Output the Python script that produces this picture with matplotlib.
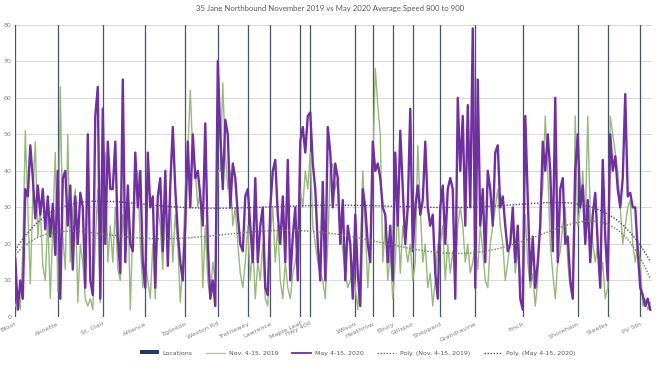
import numpy as np
import matplotlib
matplotlib.use("Agg")
import matplotlib.pyplot as plt
from matplotlib.lines import Line2D
from matplotlib.patches import Patch

title = "35 Jane Northbound November 2019 vs May 2020 Average Speed 800 to 900"

location_names = ["Bloor", "Annette", "St. Clair", "Alliance", "Eglinton", "Weston Rd",
                  "Trethewey", "Lawrence", "Maple Leaf", "Hwy 400", "Wilson", "Heathrow",
                  "Ebury", "Gillspur", "Sheppard", "Grandravine", "Finch", "Shoreham",
                  "Steeles", "PV Stn"]
location_index = [0, 17, 35, 52, 68, 81, 93, 102, 114, 118, 136, 143, 151, 159, 170,
                  184, 203, 225, 237, 250]

may_2020 = [
    16, 2, 10, 5, 35, 33, 47, 38, 27, 36, 28, 35, 24, 33, 22, 31, 17, 40, 5, 38,
    40, 25, 36, 13, 33, 20, 34, 30, 8, 50, 10, 6, 55, 63, 5, 57, 20, 48,
    35, 35, 48, 22, 12, 65, 15, 36, 20, 18, 45, 30, 40, 15, 8, 45, 30, 33, 8, 33,
    38, 18, 40, 14, 36, 52, 35, 23, 15, 10, 25, 48, 30, 50, 38, 40, 33, 25, 53, 20,
    5, 10, 3, 70,
    50, 35, 54, 50, 30, 42, 38, 28, 20, 18, 33, 35, 25, 15, 38, 15, 25, 30, 8, 6,
    30, 40, 43, 28, 20, 33, 15, 43, 10, 22, 30, 10, 48, 52, 45, 55, 56, 42, 35, 20,
    10, 37, 10, 52,
    45, 30, 42, 38, 20, 32, 10, 25, 20, 5, 28, 12, 3, 35, 30, 20, 15, 48, 40, 42,
    38, 30, 28, 15, 25, 10, 45, 25, 51, 35, 20, 30, 57, 18, 30, 36, 28, 32, 48, 30,
    25, 28, 12, 5,
    30, 36, 20, 35, 38, 35, 5, 60, 40, 55, 25, 58, 30, 79, 8, 65, 25, 35, 15, 40,
    35, 25, 45, 47, 30, 33, 25, 18, 20, 30, 15, 25, 5, 2, 55, 32, 10, 22, 8, 15,
    25, 48, 40, 50,
    40, 18, 60, 15, 35, 38, 20, 22, 10, 5, 40, 50, 30, 36, 20, 32, 15, 28, 34, 20,
    8, 43, 22, 10, 50, 40, 44, 35, 30, 38, 61, 33, 34, 30, 30, 18, 8, 6, 3, 5,
    2,
]

nov_2019 = [
    3, 5, 2, 18, 51, 30, 9, 33, 48, 22, 30, 14, 10, 28, 5, 25, 45, 7, 63, 22,
    13, 50, 15, 30, 35, 4, 20, 15, 5, 3, 5, 2, 20, 35, 4, 35, 45, 15,
    25, 15, 30, 13, 10, 28, 20, 35, 2, 25, 38, 40, 20, 8, 15, 10, 5, 20, 5, 30,
    25, 13, 35, 20, 32, 15, 28, 20, 4, 15, 35, 45, 62, 45, 40, 30, 35, 8, 25, 10,
    5, 15, 10, 40,
    40, 64, 45, 35, 40, 25, 30, 20, 12, 8, 15, 25, 10, 20, 5, 15, 10, 20, 5, 3,
    22, 30, 15, 25, 10, 5, 15, 8, 5, 12, 15, 20, 35, 30, 40, 35, 45, 25, 20, 15,
    12, 10, 5, 20,
    40, 42, 35, 38, 25, 18, 12, 8, 10, 15, 8, 2, 15, 40, 25, 8, 20, 40, 68, 58,
    50, 15, 25, 10, 18, 5, 15, 30, 12, 25, 20, 15, 20, 10, 15, 47, 30, 15, 20, 8,
    12, 3, 10, 20,
    20, 25, 10, 20, 12, 18, 10, 25, 30, 25, 15, 20, 12, 15, 20, 13, 25, 18, 10, 8,
    20, 25, 30, 35, 25, 20, 10, 15, 20, 25, 12, 18, 12, 8, 28, 15, 8, 12, 3, 10,
    30, 35, 55, 40,
    20, 12, 5, 15, 18, 25, 30, 15, 8, 5, 55, 25, 30, 40, 25, 55, 28, 20, 15, 20,
    10, 15, 5, 8, 55, 50, 45, 40, 30, 20, 25, 30, 32, 20, 15, 20, 15, 3, 5, 2,
    4,
]

y_ticks = [0, 10, 20, 30, 40, 50, 60, 70, 80]
poly_order = 6

W, H = 660, 368
fig = plt.figure(figsize=(W / 100, H / 100), dpi=100)
ax = fig.add_axes([15.3 / W, 1 - 317 / H, (652 - 15.3) / W, (317 - 24.7) / H])

x_may = np.arange(len(may_2020))
x_nov = np.arange(len(nov_2019))

green = "#98B87E"
purple = "#7030A0"
loc_col = "#44546A"

for xi in location_index:
    ax.axvline(xi, color=loc_col, lw=0.9, zorder=1)

ax.plot(x_nov, nov_2019, color=green, lw=1.0, zorder=2)
ax.plot(x_may, may_2020, color=purple, lw=1.7, zorder=3)

pn = np.polyfit(x_nov, nov_2019, poly_order)
pm = np.polyfit(x_may, may_2020, poly_order)
ax.plot(x_nov, np.polyval(pn, x_nov), color="#6E7F5C", lw=1.0, ls=(0, (1, 1.2)), zorder=4)
ax.plot(x_may, np.polyval(pm, x_may), color="#5E3C80", lw=1.0, ls=(0, (1, 1.2)), zorder=4)

ax.set_xlim(0, len(may_2020) - 0.3)
ax.set_ylim(0, 80)
ax.set_yticks(y_ticks)
ax.yaxis.grid(True, color="#D9D9D9", lw=0.7)
ax.set_axisbelow(True)
for s in ax.spines.values():
    s.set_visible(False)
ax.tick_params(axis="y", length=0, labelsize=4.5, labelcolor="#7F7F7F", pad=3)
ax.set_xticks(location_index)
ax.set_xticklabels(location_names, rotation=25, ha="right", va="top",
                   rotation_mode="anchor", fontsize=4.6, color="#7F7F7F")
ax.tick_params(axis="x", length=0, pad=3)

fig.text(0.5, 1 - 9 / H, title, ha="center", va="center", fontsize=5.6,
         color="#595959", family="Lato")

handles = [
    Patch(facecolor="#1F3864", edgecolor="none"),
    Line2D([], [], color="#B5C9A0", lw=1.0),
    Line2D([], [], color=purple, lw=1.3),
    Line2D([], [], color="#6E7F5C", lw=1.0, ls=(0, (1, 1.2))),
    Line2D([], [], color="#5E3C80", lw=1.0, ls=(0, (1, 1.2))),
]
labels = ["Locations", "Nov. 4-15, 2019", "May 4-15, 2020",
          "Poly. (Nov. 4-15, 2019)", "Poly. (May 4-15, 2020)"]
fig.legend(handles, labels, loc="center", bbox_to_anchor=(0.542, 1 - 353 / H), ncol=5,
           frameon=False, fontsize=4.5, labelcolor="#595959", handlelength=3.0,
           handleheight=0.6, columnspacing=2.2, handletextpad=0.6)

fig.savefig("out.png", dpi=100)
